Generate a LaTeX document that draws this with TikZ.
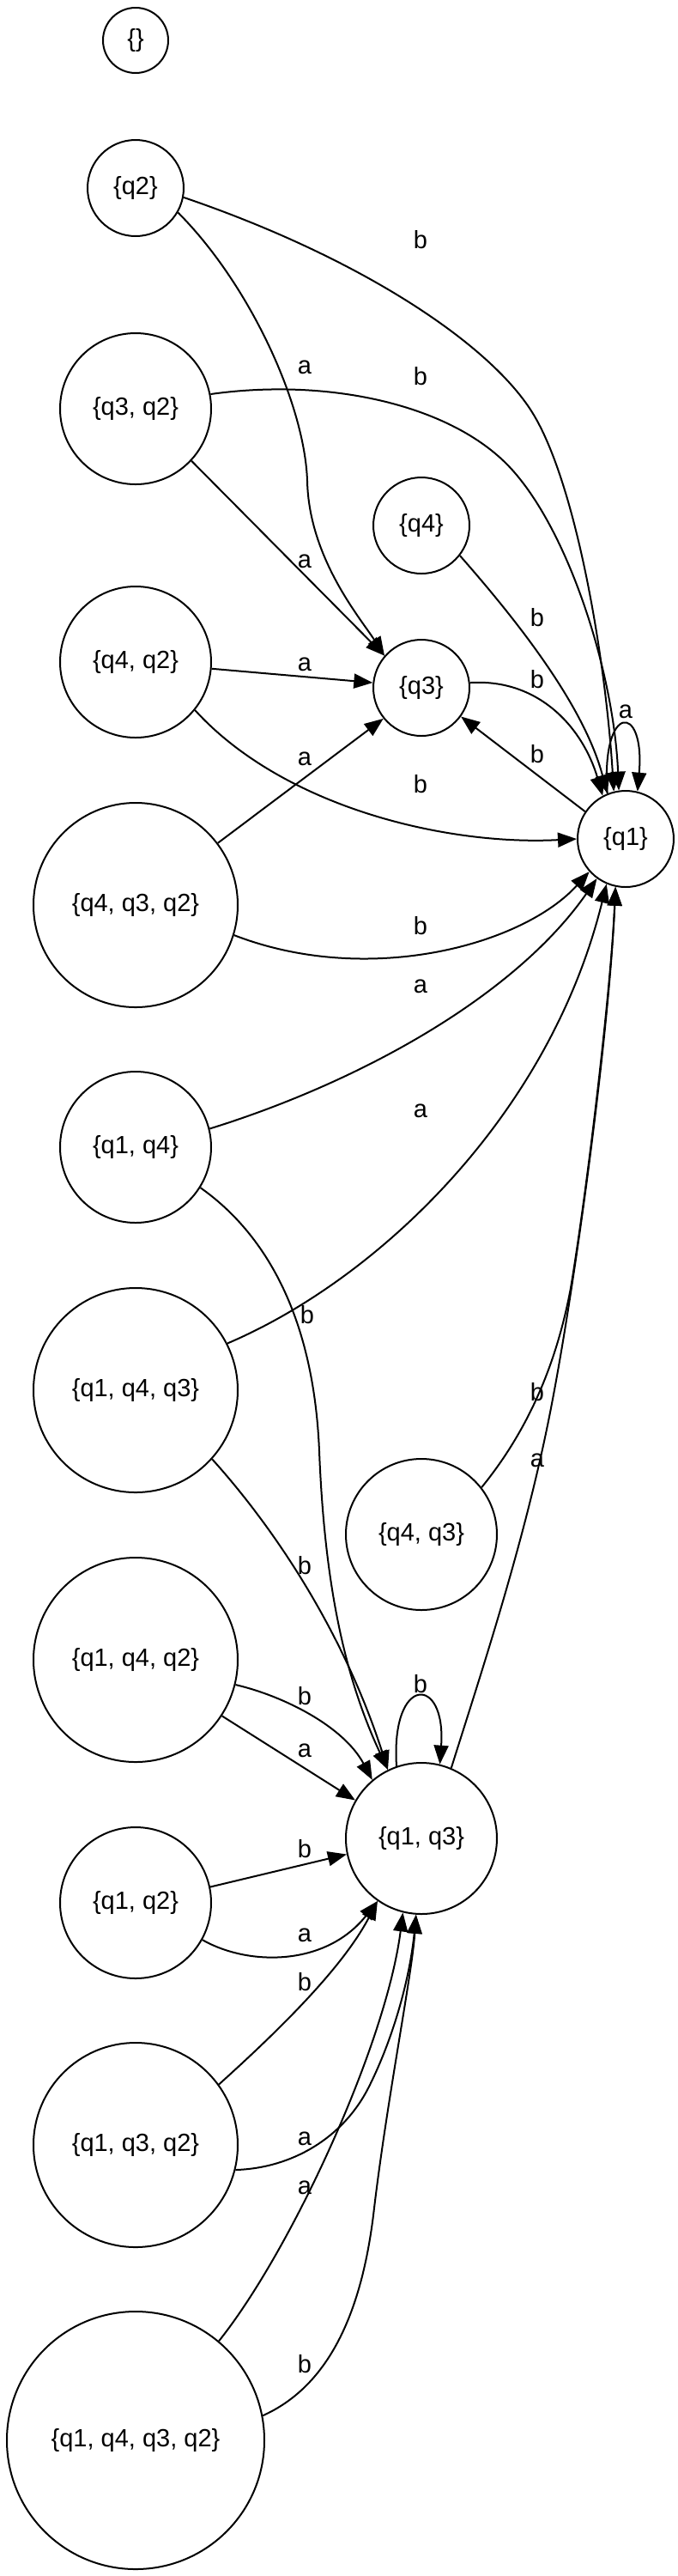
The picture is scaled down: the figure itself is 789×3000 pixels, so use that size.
\documentclass[tikz,border=0pt]{standalone}
\usepackage{fontspec}
\setmainfont{Liberation Sans}
\usetikzlibrary{arrows.meta}
\begin{document}
\begin{tikzpicture}[x=0.5pt,y=-0.5pt,
  st/.style={draw,circle,line width=1pt,inner sep=0pt,font=\fontsize{14.5}{17}\selectfont},
  e/.style={line width=1pt,-{Triangle[length=11pt,width=8.5pt]}},
  lb/.style={font=\fontsize{14.5}{17}\selectfont,anchor=base,inner sep=0pt}]
\useasboundingbox (0,0) rectangle (789,3000);
% states
\node[st,minimum size=38pt]  (E)     at (158,47)   {\{\}};
\node[st,minimum size=56pt]  (Q2)    at (158,219)  {\{q2\}};
\node[st,minimum size=88pt]  (Q32)   at (158,476)  {\{q3, q2\}};
\node[st,minimum size=56pt]  (Q4)    at (491,612)  {\{q4\}};
\node[st,minimum size=88pt]  (Q42)   at (158,771)  {\{q4, q2\}};
\node[st,minimum size=56pt]  (Q3)    at (491,801)  {\{q3\}};
\node[st,minimum size=56pt]  (Q1)    at (729,977)  {\{q1\}};
\node[st,minimum size=119pt] (Q432)  at (158,1054) {\{q4, q3, q2\}};
\node[st,minimum size=88pt]  (Q14)   at (158,1336) {\{q1, q4\}};
\node[st,minimum size=119pt] (Q143)  at (158,1619) {\{q1, q4, q3\}};
\node[st,minimum size=88pt]  (Q43)   at (491,1787) {\{q4, q3\}};
\node[st,minimum size=119pt] (Q142)  at (158,1933) {\{q1, q4, q2\}};
\node[st,minimum size=88pt]  (Q13)   at (491,2141) {\{q1, q3\}};
\node[st,minimum size=88pt]  (Q12)   at (158,2216) {\{q1, q2\}};
\node[st,minimum size=119pt] (Q132)  at (158,2498) {\{q1, q3, q2\}};
\node[st,minimum size=150pt] (Q1432) at (158,2842) {\{q1, q4, q3, q2\}};
% transitions
\draw[e] (Q2.-11) .. controls (420,300) and (570,400) .. (620,480) .. controls (670,560) and (705,760) .. (Q1.104) node[lb] at (490,289) {b};
\draw[e] (Q2.-30) .. controls (290,330) and (355,470) .. (358,560) .. controls (360,650) and (420,720) .. (Q3.139) node[lb] at (355,435) {a};
\draw[e] (Q32.11) .. controls (380,440) and (520,470) .. (590,540) .. controls (660,610) and (715,780) .. (Q1.98) node[lb] at (490,448) {b};
\draw[e] (Q32.-43) -- (Q3.139) node[lb] at (355,661) {a};
\draw[e] (Q4.-38) .. controls (600,720) and (680,820) .. (Q1.112) node[lb] at (626,729) {b};
\draw[e] (Q42.-5) -- (Q3.174) node[lb] at (355,781) {a};
\draw[e] (Q3.6) .. controls (630,790) and (680,850) .. (Q1.118) node[lb] at (626,801) {b};
\draw[e] (Q1.112) .. controls (700,818) and (752,818) .. (Q1.76) node[lb] at (729,836) {a};
\draw[e] (Q1.146) -- (Q3.324) node[lb] at (626,888) {b};
\draw[e] (Q42.-39) .. controls (330,940) and (520,985) .. (Q1.180) node[lb] at (490,923) {b};
\draw[e] (Q432.37) -- (Q3.219) node[lb] at (355,891) {a};
\draw[e] (Q432.-17) .. controls (430,1150) and (610,1100) .. (Q1.222) node[lb] at (490,1088) {b};
\draw[e] (Q14.14) .. controls (420,1260) and (600,1160) .. (Q1.234) node[lb] at (490,1156) {a};
\draw[e] (Q143.27) .. controls (440,1490) and (640,1300) .. (Q1.247) node[lb] at (490,1301) {a};
\draw[e] (Q14.-32) .. controls (300,1430) and (365,1520) .. (372,1690) .. controls (378,1840) and (400,1950) .. (Q13.116) node[lb] at (358,1541) {b};
\draw[e] (Q43.38) .. controls (620,1660) and (650,1580) .. (665,1500) .. controls (685,1380) and (712,1150) .. (Q1.258) node[lb] at (626,1631) {b};
\draw[e] (Q13.67) .. controls (560,1950) and (610,1800) .. (640,1650) .. controls (670,1500) and (710,1200) .. (Q1.258) node[lb] at (626,1708) {a};
\draw[e] (Q143.-42) .. controls (320,1780) and (400,1900) .. (Q13.116) node[lb] at (355,1833) {b};
\draw[e] (Q13.109) .. controls (455,1950) and (520,1950) .. (Q13.76) node[lb] at (490,1971) {b};
\draw[e] (Q142.-14) .. controls (330,1975) and (400,2010) .. (Q13.130) node[lb] at (355,1985) {b};
\draw[e] (Q142.-33) -- (Q13.150) node[lb] at (355,2046) {a};
\draw[e] (Q12.12) -- (Q13.192) node[lb] at (355,2163) {b};
\draw[e] (Q12.-29) .. controls (290,2290) and (380,2290) .. (Q13.235) node[lb] at (355,2261) {a};
\draw[e] (Q132.36) .. controls (330,2360) and (400,2290) .. (Q13.235) node[lb] at (355,2318) {b};
\draw[e] (Q132.-14) .. controls (340,2525) and (400,2490) .. (430,2430) .. controls (460,2370) and (478,2300) .. (Q13.266) node[lb] at (355,2498) {a};
\draw[e] (Q1432.50) .. controls (340,2620) and (450,2380) .. (Q13.256) node[lb] at (355,2555) {a};
\draw[e] (Q1432.11) .. controls (380,2780) and (420,2700) .. (435,2580) .. controls (450,2450) and (480,2300) .. (Q13.266) node[lb] at (355,2763) {b};
\end{tikzpicture}
\end{document}
